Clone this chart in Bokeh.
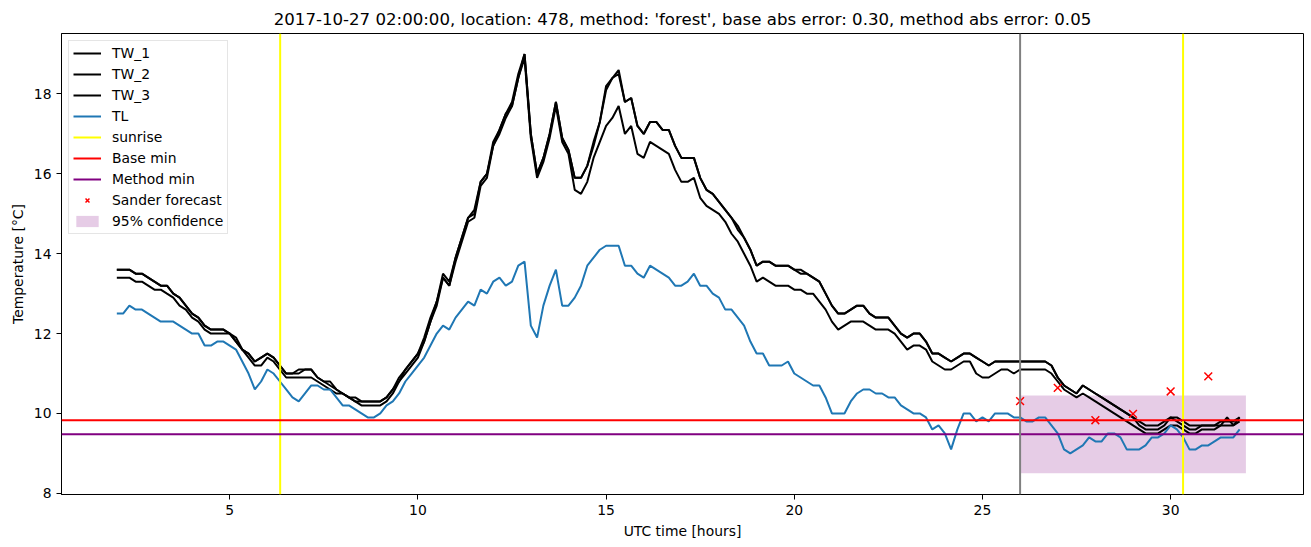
import numpy as np
from bokeh.plotting import figure
from bokeh.models import Range1d, FixedTicker, Span, Legend, LegendItem
from bokeh.embed import file_html
from bokeh.resources import INLINE

# ---- data (10-minute samples starting at 02:00) ----
hours = [round(2 + i / 6, 4) for i in range(180)]

TW_1 = [13.6, 13.6, 13.6, 13.5, 13.5, 13.4, 13.3, 13.2, 13.2, 13.0,
        12.9, 12.7, 12.5, 12.4, 12.2, 12.1, 12.1, 12.1, 12.0, 11.8,
        11.6, 11.5, 11.3, 11.4, 11.5, 11.4, 11.2, 11.0, 11.0, 11.1,
        11.1, 11.1, 10.9, 10.8, 10.8, 10.6, 10.5, 10.4, 10.4, 10.3,
        10.3, 10.3, 10.3, 10.4, 10.6, 10.9, 11.1, 11.3, 11.5, 11.9,
        12.4, 12.8, 13.5, 13.3, 13.9, 14.4, 14.9, 15.0, 15.8, 16.0,
        16.8, 17.1, 17.5, 17.8, 18.5, 19.0, 17.0, 16.0, 16.4, 17.0,
        17.8, 16.9, 16.6, 15.9, 15.9, 16.2, 16.8, 17.3, 18.2, 18.4,
        18.6, 17.8, 17.9, 17.2, 17.0, 17.3, 17.3, 17.1, 17.1, 16.7,
        16.4, 16.4, 16.4, 15.9, 15.6, 15.5, 15.3, 15.1, 14.9, 14.7,
        14.4, 14.1, 13.7, 13.8, 13.8, 13.7, 13.7, 13.7, 13.6, 13.5,
        13.5, 13.4, 13.3, 13.0, 12.7, 12.5, 12.5, 12.6, 12.7, 12.7,
        12.5, 12.4, 12.4, 12.4, 12.2, 12.0, 11.9, 12.0, 12.0, 11.8,
        11.5, 11.5, 11.4, 11.3, 11.4, 11.5, 11.5, 11.4, 11.3, 11.2,
        11.3, 11.3, 11.3, 11.3, 11.3, 11.3, 11.3, 11.3, 11.3, 11.2,
        10.9, 10.7, 10.6, 10.5, 10.7, 10.6, 10.5, 10.4, 10.3, 10.2,
        10.1, 10.0, 9.9, 9.8, 9.7, 9.7, 9.7, 9.8, 9.9, 9.9,
        9.8, 9.7, 9.7, 9.7, 9.7, 9.7, 9.7, 9.9, 9.7, 9.9]

TW_2 = [13.6, 13.6, 13.6, 13.5, 13.5, 13.4, 13.3, 13.2, 13.2, 13.0,
        12.9, 12.7, 12.5, 12.4, 12.2, 12.1, 12.1, 12.1, 12.0, 11.8,
        11.6, 11.5, 11.3, 11.4, 11.5, 11.4, 11.2, 11.0, 11.0, 11.0,
        11.1, 11.1, 10.9, 10.8, 10.7, 10.6, 10.5, 10.4, 10.3, 10.3,
        10.3, 10.3, 10.3, 10.4, 10.6, 10.8, 11.1, 11.3, 11.5, 11.8,
        12.3, 12.8, 13.4, 13.2, 13.9, 14.4, 14.9, 15.1, 15.8, 16.0,
        16.7, 17.1, 17.5, 17.7, 18.4, 19.0, 17.0, 16.0, 16.4, 17.0,
        17.8, 16.9, 16.6, 15.9, 15.9, 16.2, 16.7, 17.3, 18.1, 18.4,
        18.5, 17.8, 17.9, 17.2, 17.0, 17.3, 17.3, 17.1, 17.1, 16.7,
        16.4, 16.4, 16.4, 15.9, 15.6, 15.5, 15.3, 15.1, 14.9, 14.6,
        14.4, 14.1, 13.7, 13.8, 13.8, 13.7, 13.7, 13.7, 13.6, 13.6,
        13.5, 13.4, 13.3, 13.0, 12.7, 12.5, 12.5, 12.6, 12.7, 12.7,
        12.5, 12.4, 12.4, 12.4, 12.2, 12.0, 11.9, 12.0, 12.0, 11.8,
        11.5, 11.5, 11.4, 11.3, 11.4, 11.5, 11.5, 11.4, 11.3, 11.2,
        11.3, 11.3, 11.3, 11.3, 11.3, 11.3, 11.3, 11.3, 11.3, 11.2,
        10.9, 10.7, 10.6, 10.5, 10.7, 10.6, 10.5, 10.4, 10.3, 10.2,
        10.1, 10.0, 9.9, 9.7, 9.6, 9.6, 9.6, 9.7, 9.9, 9.8,
        9.7, 9.6, 9.6, 9.7, 9.7, 9.7, 9.8, 9.8, 9.8, 9.9]

TW_3 = [13.4, 13.4, 13.4, 13.3, 13.3, 13.2, 13.1, 13.1, 13.0, 12.9,
        12.7, 12.6, 12.4, 12.3, 12.1, 12.0, 12.0, 12.0, 12.0, 11.9,
        11.6, 11.4, 11.2, 11.2, 11.4, 11.3, 11.1, 10.9, 10.9, 10.9,
        10.9, 10.9, 10.8, 10.7, 10.6, 10.5, 10.5, 10.4, 10.3, 10.2,
        10.2, 10.2, 10.2, 10.3, 10.5, 10.8, 11.0, 11.2, 11.4, 11.8,
        12.3, 12.7, 13.4, 13.2, 13.8, 14.3, 14.8, 14.9, 15.7, 15.9,
        16.7, 17.0, 17.4, 17.7, 18.4, 18.9, 16.9, 15.9, 16.3, 16.9,
        17.7, 16.8, 16.5, 15.6, 15.5, 15.8, 16.4, 16.8, 17.2, 17.4,
        17.7, 17.0, 17.2, 16.5, 16.4, 16.8, 16.7, 16.6, 16.5, 16.1,
        15.8, 15.8, 15.9, 15.4, 15.2, 15.1, 15.0, 14.8, 14.5, 14.3,
        14.0, 13.7, 13.3, 13.4, 13.3, 13.2, 13.2, 13.2, 13.1, 13.1,
        13.0, 13.0, 12.8, 12.6, 12.3, 12.1, 12.2, 12.3, 12.3, 12.3,
        12.2, 12.1, 12.1, 12.1, 12.0, 11.8, 11.6, 11.7, 11.7, 11.6,
        11.3, 11.2, 11.1, 11.1, 11.2, 11.3, 11.3, 11.0, 10.9, 10.9,
        11.0, 11.1, 11.1, 11.0, 11.1, 11.1, 11.1, 11.1, 11.1, 11.0,
        10.8, 10.6, 10.5, 10.4, 10.5, 10.4, 10.3, 10.2, 10.1, 10.0,
        9.9, 9.8, 9.7, 9.6, 9.5, 9.5, 9.5, 9.6, 9.7, 9.7,
        9.6, 9.5, 9.5, 9.6, 9.6, 9.6, 9.7, 9.7, 9.7, 9.8]

TL = [12.5, 12.5, 12.7, 12.6, 12.6, 12.5, 12.4, 12.3, 12.3, 12.3,
      12.2, 12.1, 12.0, 12.0, 11.7, 11.7, 11.8, 11.8, 11.7, 11.6,
      11.3, 11.0, 10.6, 10.8, 11.1, 11.0, 10.8, 10.6, 10.4, 10.3,
      10.5, 10.7, 10.7, 10.6, 10.6, 10.4, 10.2, 10.2, 10.1, 10.0,
      9.9, 9.9, 10.0, 10.2, 10.3, 10.5, 10.8, 11.0, 11.2, 11.4,
      11.7, 12.0, 12.2, 12.1, 12.4, 12.6, 12.8, 12.7, 13.1, 13.0,
      13.3, 13.4, 13.2, 13.3, 13.7, 13.8, 12.2, 11.9, 12.7, 13.2,
      13.6, 12.7, 12.7, 12.9, 13.2, 13.7, 13.9, 14.1, 14.2, 14.2,
      14.2, 13.7, 13.7, 13.5, 13.4, 13.7, 13.6, 13.5, 13.4, 13.2,
      13.2, 13.3, 13.5, 13.2, 13.2, 13.0, 12.9, 12.6, 12.6, 12.4,
      12.2, 11.8, 11.5, 11.5, 11.2, 11.2, 11.2, 11.3, 11.0, 10.9,
      10.8, 10.7, 10.7, 10.4, 10.0, 10.0, 10.0, 10.3, 10.5, 10.6,
      10.6, 10.5, 10.5, 10.4, 10.4, 10.2, 10.1, 10.0, 10.0, 9.9,
      9.6, 9.7, 9.5, 9.1, 9.6, 10.0, 10.0, 9.8, 9.9, 9.8,
      10.0, 10.0, 10.0, 9.9, 9.9, 9.8, 9.8, 9.9, 9.9, 9.7,
      9.5, 9.1, 9.0, 9.1, 9.2, 9.4, 9.3, 9.3, 9.5, 9.5,
      9.4, 9.1, 9.1, 9.1, 9.2, 9.4, 9.4, 9.5, 9.7, 9.6,
      9.4, 9.1, 9.1, 9.2, 9.2, 9.3, 9.4, 9.4, 9.4, 9.6]

sunrise_hours = [6.34, 30.33]
forecast_hour = 26.0
base_min = 9.83
method_min = 9.48
sander_hours = [26, 27, 28, 29, 30, 31]
sander_temp = [10.31, 10.64, 9.83, 9.99, 10.55, 10.93]
conf_start, conf_end = 26.0, 32.0
conf_low, conf_high = 8.5, 10.45

title = ("2017-10-27 02:00:00, location: 478, method: 'forest', "
         "base abs error: 0.30, method abs error: 0.05")

FONT = "DejaVu Sans"

p = figure(width=1311, height=547, output_backend="svg", toolbar_location=None,
           x_range=Range1d(0.53, 33.53), y_range=Range1d(7.97, 19.515),
           min_border_left=61, min_border_right=8, min_border_top=33,
           min_border_bottom=53, title=title)
p.background_fill_color = "white"
p.border_fill_color = "white"
p.outline_line_color = "black"
p.outline_line_width = 1
p.xgrid.visible = False
p.ygrid.visible = False

p.title.align = "center"
p.title.text_font = FONT
p.title.text_font_size = "16.6px"
p.title.text_font_style = "normal"
p.title.text_color = "black"

for ax in (p.xaxis[0], p.yaxis[0]):
    ax.minor_tick_line_color = None
    ax.major_tick_out = 5
    ax.major_tick_in = 0
    ax.axis_line_color = "black"
    ax.major_tick_line_color = "black"
    ax.major_label_text_font = FONT
    ax.major_label_text_font_size = "13.9px"
    ax.major_label_text_color = "black"
    ax.axis_label_text_font = FONT
    ax.axis_label_text_font_size = "13.9px"
    ax.axis_label_text_font_style = "normal"
    ax.axis_label_text_color = "black"
p.xaxis.ticker = FixedTicker(ticks=[5, 10, 15, 20, 25, 30])
p.yaxis.ticker = FixedTicker(ticks=[8, 10, 12, 14, 16, 18])
p.xaxis.axis_label = "UTC time [hours]"
p.yaxis.axis_label = "Temperature [\u00b0C]"

# confidence band
r_conf = p.quad(left=[conf_start], right=[conf_end], bottom=[conf_low], top=[conf_high],
                fill_color="purple", fill_alpha=0.2, line_color=None)

# lines
r1 = p.line(hours, TW_1, line_color="black", line_width=2)
r2 = p.line(hours, TW_2, line_color="black", line_width=2)
r3 = p.line(hours, TW_3, line_color="black", line_width=2)
r_tl = p.line(hours, TL, line_color="#1f77b4", line_width=2)

for h in sunrise_hours:
    p.add_layout(Span(location=h, dimension="height", line_color="yellow", line_width=2))
p.add_layout(Span(location=base_min, dimension="width", line_color="red", line_width=2))
p.add_layout(Span(location=method_min, dimension="width", line_color="purple", line_width=2))
p.add_layout(Span(location=forecast_hour, dimension="height", line_color="gray", line_width=2))

r_sander = p.scatter(sander_hours, sander_temp, marker="x", size=11,
                     line_color="red", line_width=1.5)

# legend proxies for span lines (a single NaN point: nothing is drawn in the plot)
nan = np.array([np.nan])
r_sun = p.line(nan, nan, line_color="yellow", line_width=2)
r_base = p.line(nan, nan, line_color="red", line_width=2)
r_meth = p.line(nan, nan, line_color="purple", line_width=2)

legend = Legend(items=[
    LegendItem(label="TW_1", renderers=[r1]),
    LegendItem(label="TW_2", renderers=[r2]),
    LegendItem(label="TW_3", renderers=[r3]),
    LegendItem(label="TL", renderers=[r_tl]),
    LegendItem(label="sunrise", renderers=[r_sun]),
    LegendItem(label="Base min", renderers=[r_base]),
    LegendItem(label="Method min", renderers=[r_meth]),
    LegendItem(label="Sander forecast", renderers=[r_sander]),
    LegendItem(label="95% confidence", renderers=[r_conf]),
], location="top_left")
legend.margin = 7
legend.padding = 4
legend.spacing = 5
legend.glyph_width = 28
legend.glyph_height = 14
legend.label_height = 14
legend.label_standoff = 11
legend.label_text_font = FONT
legend.label_text_font_size = "13.9px"
legend.label_text_color = "black"
legend.border_line_color = "#cccccc"
legend.border_line_width = 1
legend.background_fill_alpha = 0.8
p.add_layout(legend)

open("out.html", "w").write(file_html(p, INLINE))
